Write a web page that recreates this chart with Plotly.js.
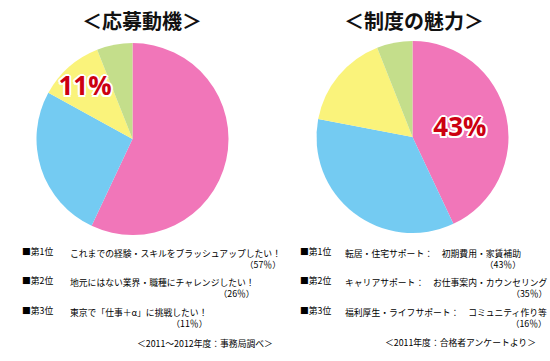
<!DOCTYPE html>
<html>
<head>
<meta charset="utf-8">
<script src="https://cdn.plot.ly/plotly-3.0.1.min.js"></script>
<style>
html,body{margin:0;padding:0;background:#fff;}
#chart{width:550px;height:361px;}
</style>
</head>
<body>
<div id="chart"></div>
<script>
// ---- data ----
const motiveTitle = '＜応募動機＞';
const motiveLabels = ['これまでの経験・スキルをブラッシュアップしたい！', '地元にはない業界・職種にチャレンジしたい！', '東京で「仕事＋α」に挑戦したい！', 'その他'];
const motiveValues = [57, 26, 11, 6];
const motiveHighlight = 2;
const motiveSource = '＜2011～2012年度：事務局調べ＞';

const appealTitle = '＜制度の魅力＞';
const appealLabels = ['転居・住宅サポート：　初期費用・家賃補助', 'キャリアサポート：　お仕事案内・カウンセリング', '福利厚生・ライフサポート：　コミュニティ作り等', 'その他'];
const appealValues = [43, 35, 16, 6];
const appealHighlight = 0;
const appealSource = '＜2011年度：合格者アンケートより＞';

const rankLabels = ['■第1位', '■第2位', '■第3位'];
const sliceColors = ['#F176B9', '#74CBF2', '#FAF37B', '#C4DE8B'];

// ---- layout helpers ----
const W = 550, H = 361;
const px = x => x / W;
const py = y => 1 - y / H;
const smallFont = {family: '"Noto Sans CJK JP", sans-serif', size: 8.8, color: '#000'};
const clear = 'rgba(0,0,0,0)';
const labelFont = {family: '"Open Sans", "Noto Sans", sans-serif', size: 26, weight: 700};
const haloOffsets = [[-2,0],[2,0],[0,-2],[0,2],[-1.5,-1.5],[1.5,-1.5],[-1.5,1.5],[1.5,1.5]];

function pieBase(labels, values, cx, cy, r) {
  return {
    type: 'pie', labels: labels, values: values,
    sort: false, direction: 'clockwise', rotation: 0,
    hoverinfo: 'none', showlegend: false,
    domain: {x: [px(cx - r), px(cx + r)], y: [py(cy + r), py(cy - r)]}
  };
}

function pieTraces(labels, values, highlight, cx, cy, r) {
  const labelText = values.map((v, i) => i === highlight ? v + '%' : '');
  const traces = [];
  const main = pieBase(labels, values, cx, cy, r);
  main.marker = {colors: sliceColors, line: {width: 0}};
  main.textinfo = 'none';
  traces.push(main);
  const mk = (dx, dy, color) => {
    const t = pieBase(labels, values, cx + dx, cy + dy, r);
    t.marker = {colors: values.map(() => clear), line: {width: 0}};
    t.text = labelText;
    t.textinfo = 'text';
    t.textposition = 'inside';
    t.insidetextorientation = 'horizontal';
    t.textfont = Object.assign({color: color}, labelFont);
    return t;
  };
  haloOffsets.forEach(o => traces.push(mk(o[0], o[1], '#ffffff')));
  traces.push(mk(0, 0, '#CC0011'));
  return traces;
}

function listAnnotations(labels, values, xRank, xText, yStart, step, source, srcRight, srcY) {
  const anns = [];
  for (let i = 0; i < rankLabels.length; i++) {
    const y = yStart + i * step;
    anns.push({xref: 'paper', yref: 'paper', x: px(xRank), y: py(y), xanchor: 'left', yanchor: 'middle',
      text: rankLabels[i], showarrow: false, font: smallFont});
    anns.push({xref: 'paper', yref: 'paper', x: px(xText), y: py(y - 6.5), xanchor: 'left', yanchor: 'top',
      text: labels[i] + '<br>（' + values[i] + '％）', align: 'right', showarrow: false, font: smallFont});
  }
  anns.push({xref: 'paper', yref: 'paper', x: px(srcRight), y: py(srcY), xanchor: 'right', yanchor: 'middle',
    text: source, showarrow: false, font: smallFont});
  return anns;
}

const titleFont = {family: '"Noto Sans CJK JP", sans-serif', size: 20, weight: 700, color: '#111'};

const data = [].concat(
  pieTraces(motiveLabels, motiveValues, motiveHighlight, 132.5, 139, 96),
  pieTraces(appealLabels, appealValues, appealHighlight, 412.5, 137, 96)
);

const annotations = [
  {xref: 'paper', yref: 'paper', x: px(142), y: py(20), xanchor: 'center', yanchor: 'middle', text: motiveTitle, showarrow: false, font: titleFont},
  {xref: 'paper', yref: 'paper', x: px(413.5), y: py(20), xanchor: 'center', yanchor: 'middle', text: appealTitle, showarrow: false, font: titleFont}
].concat(
  listAnnotations(motiveLabels, motiveValues, 20, 68, 251, 29.5, motiveSource, 275, 343),
  listAnnotations(appealLabels, appealValues, 298, 343, 251, 29.5, appealSource, 538, 342)
);

const layout = {
  width: W, height: H,
  margin: {l: 0, r: 0, t: 0, b: 0},
  paper_bgcolor: '#fff',
  showlegend: false,
  uniformtext: {mode: 'show', minsize: 26},
  annotations: annotations
};

Plotly.newPlot('chart', data, layout, {displayModeBar: false, staticPlot: true});
</script>
</body>
</html>
